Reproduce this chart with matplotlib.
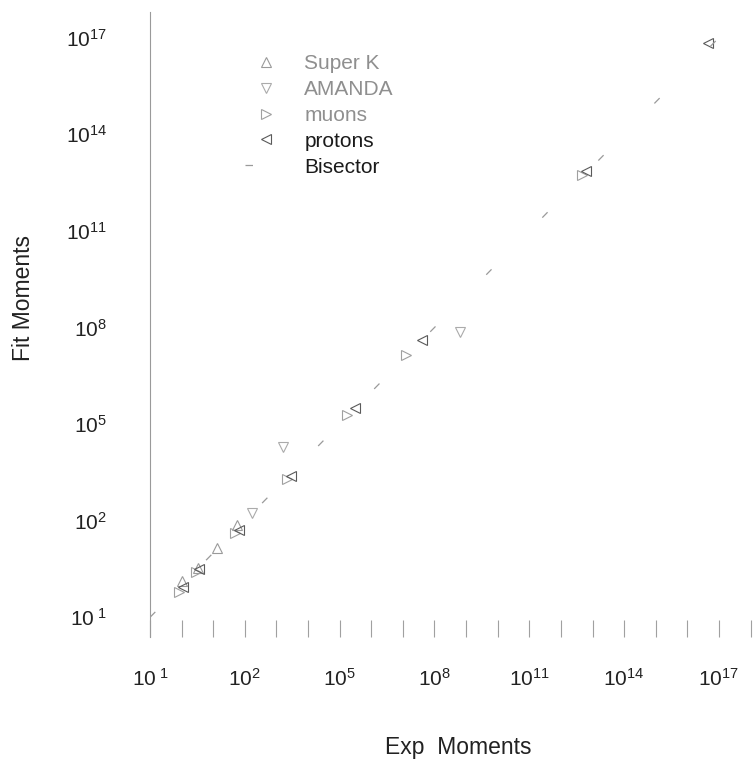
import matplotlib
matplotlib.use('Agg')
import matplotlib.pyplot as plt

plt.rcParams['font.family'] = ['Liberation Sans', 'DejaVu Sans']
plt.rcParams['mathtext.fontset'] = 'custom'
plt.rcParams['mathtext.rm'] = 'Liberation Sans'
plt.rcParams['mathtext.it'] = 'Liberation Sans'

superk_exp = [1.0, 3.2, 13, 56]
superk_fit = [1.3, 3.5, 14, 71]

amanda_exp = [170, 1.6e3, 6.5e8]
amanda_fit = [170, 1.9e4, 7.1e7]

muons_exp = [0.8, 2.8, 50, 2.2e3, 1.7e5, 1.26e7, 4.5e12]
muons_fit = [0.63, 2.5, 40, 2.0e3, 1.86e5, 1.38e7, 5.6e12]

protons_exp = [1.1, 3.5, 63, 2.8e3, 3.1e5, 4.1e7, 6.3e12, 4.6e16]
protons_fit = [0.9, 3.2, 50, 2.5e3, 3.1e5, 4.0e7, 7.1e12, 6.8e16]

bisector = [1e-1, 1e18]

xticks = [10.0 ** k for k in range(-1, 19)]
xticklabels = [r'$10^{\ 1}$', '', '', r'$10^{2}$', '', '', r'$10^{5}$', '', '',
               r'$10^{8}$', '', '', r'$10^{11}$', '', '', r'$10^{14}$', '', '',
               r'$10^{17}$', '']
yticks = [1e-1, 1e2, 1e5, 1e8, 1e11, 1e14, 1e17]
yticklabels = [r'$10^{\ 1}$', r'$10^{2}$', r'$10^{5}$', r'$10^{8}$',
               r'$10^{11}$', r'$10^{14}$', r'$10^{17}$']

fig = plt.figure(figsize=(7.54, 7.65), dpi=100)
ax = fig.add_axes([0.199, 0.167, 0.801, 0.817])

ax.plot(superk_exp, superk_fit, ls='none', marker='^', ms=7, mfc='none',
        mec='#9a9a9a', mew=0.8, label='Super K')
ax.plot(amanda_exp, amanda_fit, ls='none', marker='v', ms=7, mfc='none',
        mec='#ababab', mew=0.8, label='AMANDA')
ax.plot(muons_exp, muons_fit, ls='none', marker='>', ms=7, mfc='none',
        mec='#a0a0a0', mew=0.8, label='muons')
ax.plot(protons_exp, protons_fit, ls='none', marker='<', ms=7, mfc='none',
        mec='#5a5a5a', mew=0.8, label='protons')
ax.plot(bisector, bisector, color='#9a9a9a', lw=0.9, ls=(0, (6, 58)),
        label='Bisector')

ax.set_xscale('log')
ax.set_yscale('log')
ax.set_xlim(1e-1, 10 ** 18.11)
ax.set_ylim(10 ** -1.62, 10 ** 17.79)

ax.set_xticks(xticks)
ax.set_xticklabels(xticklabels)
ax.xaxis.set_minor_locator(matplotlib.ticker.NullLocator())
ax.set_yticks(yticks)
ax.set_yticklabels(yticklabels)
ax.yaxis.set_minor_locator(matplotlib.ticker.NullLocator())

ax.tick_params(axis='x', direction='in', length=12, width=0.8, color='#a0a0a0',
               pad=22, labelsize=15, labelcolor='#222222')
ax.tick_params(axis='y', length=0, pad=31, labelsize=15, labelcolor='#222222')

for side in ['top', 'right', 'bottom']:
    ax.spines[side].set_visible(False)
ax.spines['left'].set_color('#9a9a9a')
ax.spines['left'].set_linewidth(0.8)

ax.set_xlabel('Exp  Moments', fontsize=16.5, color='#222222')
ax.xaxis.set_label_coords(0.51, -0.158)
ax.set_ylabel('Fit Moments', fontsize=16.5, color='#222222')
ax.yaxis.set_label_coords(-0.19, 0.542)

leg = ax.legend(loc='upper left', bbox_to_anchor=(0.126, 0.963), frameon=False,
                fontsize=15, handlelength=2.0, handletextpad=0.85,
                labelspacing=0.33, borderpad=0.4)
text_colors = ['#8f8f8f', '#8f8f8f', '#8f8f8f', '#1a1a1a', '#1a1a1a']
for t, c in zip(leg.get_texts(), text_colors):
    t.set_color(c)

fig.savefig('out.png', dpi=100)
